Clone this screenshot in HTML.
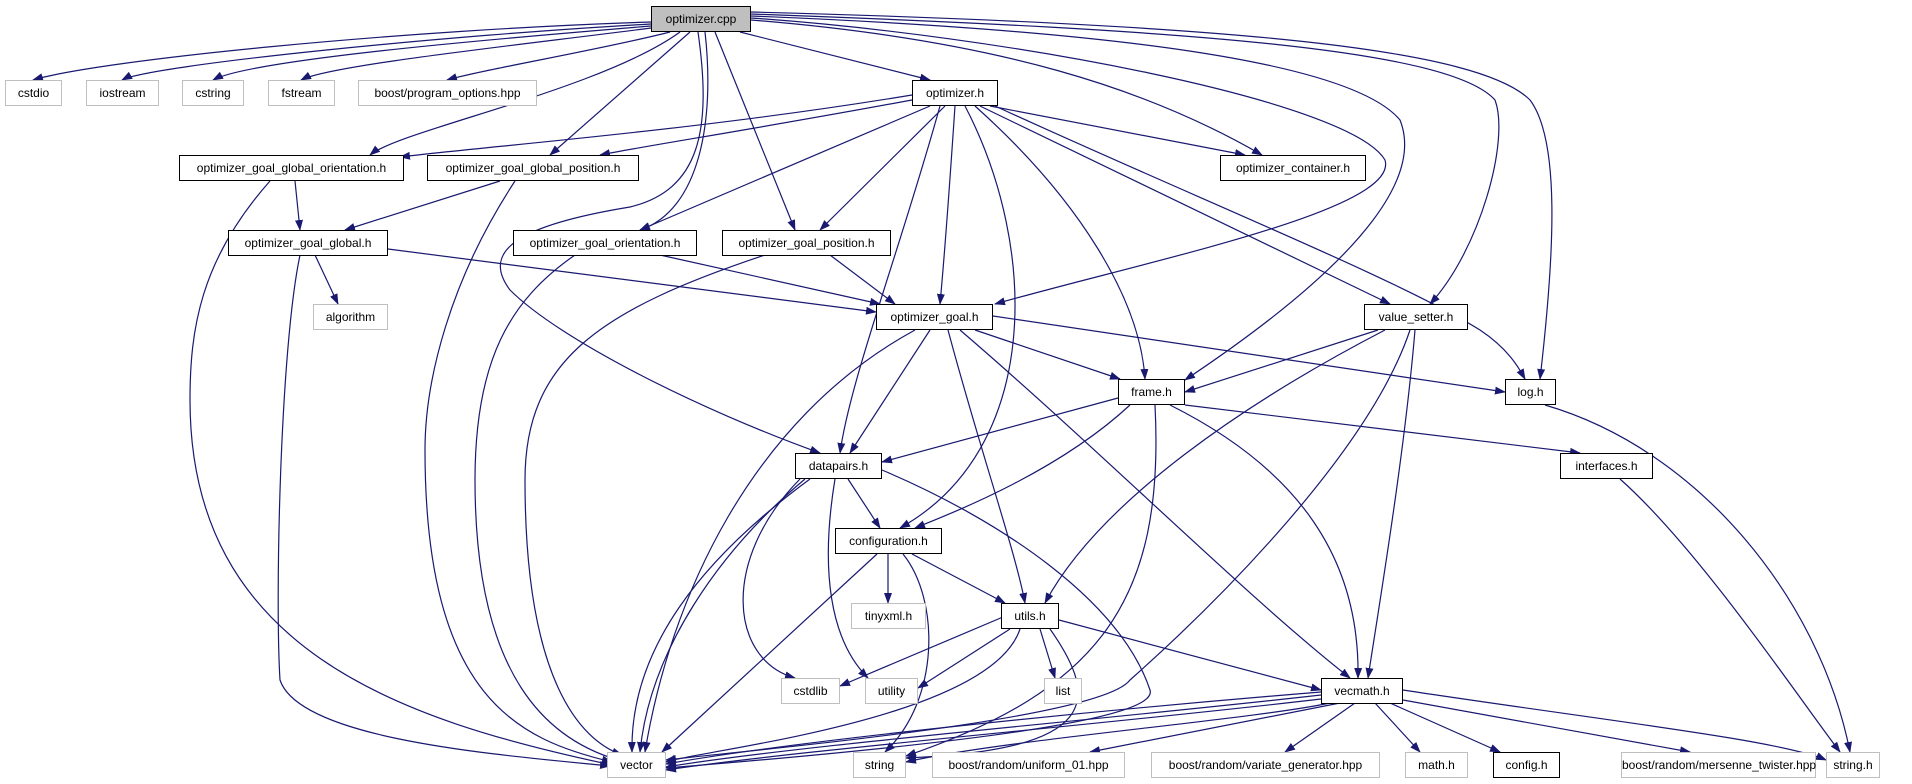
<!DOCTYPE html>
<html><head><meta charset="utf-8"><style>
body{margin:0;background:#fff;width:1912px;height:784px;position:relative;overflow:hidden;font-family:"Liberation Sans",sans-serif}
.n{position:absolute;height:24px;border:1px solid #000;background:#fff;font-size:12px;line-height:24px;text-align:center;box-sizing:content-box;white-space:nowrap}
.g{border-color:#bfbfbf}
svg{position:absolute;left:0;top:0}
</style></head><body>
<svg width="1912" height="784" viewBox="0 0 1912 784">
<defs><marker id="a" markerWidth="11" markerHeight="8" refX="10" refY="4" orient="auto" markerUnits="userSpaceOnUse"><path d="M0,0 L11,4 L0,8 z" fill="#191970"/></marker></defs>
<g fill="none" stroke="#191970" stroke-width="1.2" marker-end="url(#a)">
<path d="M651,22 C400,30 100,60 33,80"/>
<path d="M651,24 C450,35 150,65 122,80"/>
<path d="M651,26 C480,40 250,60 213,80"/>
<path d="M651,28 C520,45 330,65 301,80"/>
<path d="M670,32 C600,50 480,70 447,80"/>
<path d="M740,32 L930,80"/>
<path d="M680,32 C600,90 400,130 370,155"/>
<path d="M690,32 L550,155"/>
<path d="M705,32 C715,120 700,210 640,230"/>
<path d="M715,32 L795,230"/>
<path d="M698,32 C712,130 700,190 630,207 C520,225 480,250 510,290 C560,340 700,410 820,453"/>
<path d="M751,20 C1000,40 1150,90 1262,155"/>
<path d="M751,18 C1000,35 1350,100 1385,160 C1400,210 1150,260 995,304"/>
<path d="M751,16 C1100,30 1350,60 1400,120 C1420,170 1380,250 1185,380"/>
<path d="M751,14 C1200,30 1450,50 1495,100 C1510,140 1480,250 1430,304"/>
<path d="M751,12 C1250,25 1480,50 1530,100 C1560,140 1555,250 1540,379"/>
<path d="M912,95 C700,130 500,145 400,157"/>
<path d="M912,100 C750,130 650,145 600,155"/>
<path d="M990,106 L1245,155"/>
<path d="M930,106 L640,230"/>
<path d="M945,106 L820,230"/>
<path d="M955,106 C950,180 945,250 940,304"/>
<path d="M940,106 C900,250 850,380 840,453"/>
<path d="M965,106 C1040,250 1040,450 900,528"/>
<path d="M975,106 C1080,200 1140,300 1145,379"/>
<path d="M980,106 L1390,304"/>
<path d="M995,106 C1200,200 1400,280 1480,330 C1510,350 1520,370 1525,379"/>
<path d="M295,181 L300,230"/>
<path d="M270,181 C200,260 190,330 190,400 C190,650 400,720 612,765"/>
<path d="M500,181 L345,230"/>
<path d="M515,181 C450,280 425,380 425,450 C425,700 520,740 612,762"/>
<path d="M315,255 L338,304"/>
<path d="M388,249 L876,312"/>
<path d="M300,255 C280,350 275,600 280,680 C300,740 500,755 610,766"/>
<path d="M660,255 L880,304"/>
<path d="M575,255 C510,300 475,360 475,480 C475,680 550,740 618,760"/>
<path d="M830,255 L895,304"/>
<path d="M765,255 C600,310 525,360 525,480 C525,680 580,740 622,755"/>
<path d="M993,316 L1505,392"/>
<path d="M975,330 L1120,379"/>
<path d="M930,330 L850,453"/>
<path d="M915,330 C750,420 670,600 645,752"/>
<path d="M948,330 C980,450 1015,550 1025,603"/>
<path d="M960,330 C1100,450 1250,600 1350,678"/>
<path d="M1378,330 L1185,392"/>
<path d="M1385,330 C1250,400 1100,500 1045,603"/>
<path d="M1415,330 C1405,450 1380,600 1368,678"/>
<path d="M1410,330 C1370,450 1220,600 1130,680 C1100,720 750,750 666,760"/>
<path d="M1118,398 L882,462"/>
<path d="M1130,405 C1060,470 960,510 915,528"/>
<path d="M1170,405 C1300,470 1360,560 1358,678"/>
<path d="M1185,405 L1580,453"/>
<path d="M1155,405 C1165,600 1100,690 906,756"/>
<path d="M1545,405 C1700,450 1820,600 1850,752"/>
<path d="M1620,479 C1700,550 1800,700 1840,752"/>
<path d="M848,479 L880,528"/>
<path d="M805,479 C720,550 650,650 640,752"/>
<path d="M810,479 C700,560 630,650 632,752"/>
<path d="M800,479 C720,560 730,660 795,678"/>
<path d="M835,479 C820,570 830,640 868,678"/>
<path d="M882,470 C1000,520 1120,600 1150,690 C1160,720 950,745 666,768"/>
<path d="M888,554 L888,603"/>
<path d="M912,554 L1005,603"/>
<path d="M877,554 L662,752"/>
<path d="M903,554 C940,600 940,700 885,752"/>
<path d="M1003,617 L840,686"/>
<path d="M1010,629 L918,688"/>
<path d="M1040,629 L1055,678"/>
<path d="M1059,620 L1321,690"/>
<path d="M1020,629 C990,720 700,750 666,762"/>
<path d="M1050,629 C1100,700 1100,750 906,758"/>
<path d="M1321,692 C1100,710 800,740 666,764"/>
<path d="M1321,695 C1100,720 800,745 666,767"/>
<path d="M1321,699 C1100,725 800,750 666,770"/>
<path d="M1330,703 C1250,720 1000,740 906,762"/>
<path d="M1340,703 L1090,752"/>
<path d="M1355,703 L1285,752"/>
<path d="M1375,703 L1420,752"/>
<path d="M1390,703 L1500,752"/>
<path d="M1403,700 L1690,752"/>
<path d="M1403,690 C1600,720 1780,740 1826,760"/>
</g></svg>
<div class="n" style="left:651px;top:6px;width:98px;background:#bfbfbf">optimizer.cpp</div>
<div class="n g" style="left:5px;top:80px;width:55px">cstdio</div>
<div class="n g" style="left:86px;top:80px;width:71px">iostream</div>
<div class="n g" style="left:182px;top:80px;width:60px">cstring</div>
<div class="n g" style="left:268px;top:80px;width:65px">fstream</div>
<div class="n g" style="left:358px;top:80px;width:177px">boost/program_options.hpp</div>
<div class="n" style="left:912px;top:80px;width:84px">optimizer.h</div>
<div class="n" style="left:179px;top:155px;width:223px">optimizer_goal_global_orientation.h</div>
<div class="n" style="left:427px;top:155px;width:210px">optimizer_goal_global_position.h</div>
<div class="n" style="left:1220px;top:155px;width:144px">optimizer_container.h</div>
<div class="n" style="left:228px;top:230px;width:158px">optimizer_goal_global.h</div>
<div class="n" style="left:513px;top:230px;width:182px">optimizer_goal_orientation.h</div>
<div class="n" style="left:722px;top:230px;width:167px">optimizer_goal_position.h</div>
<div class="n g" style="left:313px;top:304px;width:73px">algorithm</div>
<div class="n" style="left:876px;top:304px;width:115px">optimizer_goal.h</div>
<div class="n" style="left:1364px;top:304px;width:102px">value_setter.h</div>
<div class="n" style="left:1118px;top:379px;width:65px">frame.h</div>
<div class="n" style="left:1505px;top:379px;width:49px">log.h</div>
<div class="n" style="left:795px;top:453px;width:85px">datapairs.h</div>
<div class="n" style="left:1560px;top:453px;width:91px">interfaces.h</div>
<div class="n" style="left:835px;top:528px;width:105px">configuration.h</div>
<div class="n g" style="left:851px;top:603px;width:73px">tinyxml.h</div>
<div class="n" style="left:1001px;top:603px;width:56px">utils.h</div>
<div class="n g" style="left:781px;top:678px;width:57px">cstdlib</div>
<div class="n g" style="left:865px;top:678px;width:51px">utility</div>
<div class="n g" style="left:1044px;top:678px;width:36px">list</div>
<div class="n" style="left:1321px;top:678px;width:80px">vecmath.h</div>
<div class="n g" style="left:607px;top:752px;width:57px">vector</div>
<div class="n g" style="left:853px;top:752px;width:51px">string</div>
<div class="n g" style="left:932px;top:752px;width:191px">boost/random/uniform_01.hpp</div>
<div class="n g" style="left:1151px;top:752px;width:227px">boost/random/variate_generator.hpp</div>
<div class="n g" style="left:1405px;top:752px;width:61px">math.h</div>
<div class="n" style="left:1493px;top:752px;width:65px">config.h</div>
<div class="n g" style="left:1621px;top:752px;width:193px">boost/random/mersenne_twister.hpp</div>
<div class="n g" style="left:1826px;top:752px;width:52px">string.h</div>
</body></html>
